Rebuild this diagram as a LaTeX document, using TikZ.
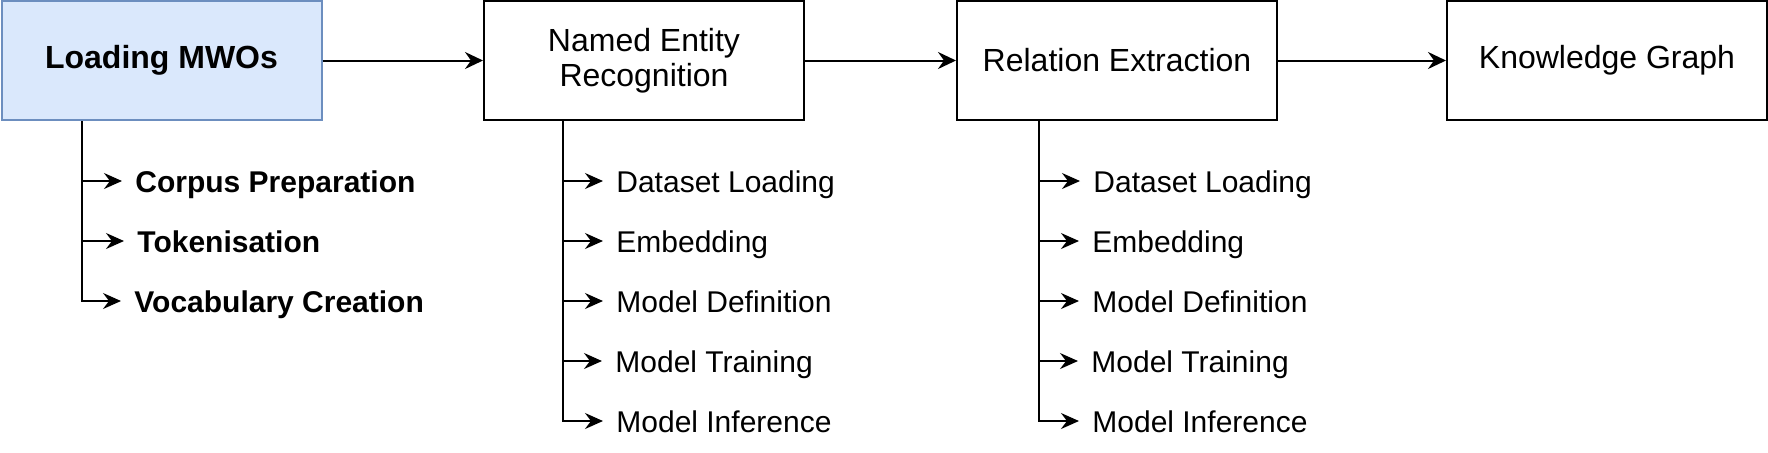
\documentclass[tikz,border=0pt]{standalone}
\usepackage{fontspec}
\setmainfont{Liberation Sans}
\usetikzlibrary{arrows.meta}
\definecolor{boxblue}{HTML}{DAE8FC}
\definecolor{boxblueline}{HTML}{6C8EBF}
\tikzset{
  stagebox/.style={draw=black, line width=1pt, minimum width=160pt, minimum height=59.5pt,
    inner sep=0pt, align=center, font=\fontsize{16}{17.5}\selectfont},
  firstbox/.style={stagebox, fill=boxblue, draw=boxblueline, font=\fontsize{16}{17.5}\selectfont\bfseries},
  mainarrow/.style={line width=1pt, -{Stealth[length=9pt, width=8.5pt, inset=3pt]}},
  subarrow/.style={line width=0.8pt, -{Stealth[length=9pt, width=8pt, inset=3pt]}},
  sublabel/.style={anchor=west, inner xsep=6.5pt, inner ysep=0pt, text height=11pt, text depth=0pt,
    font=\fontsize{15}{17}\selectfont},
  boldlabel/.style={sublabel, font=\fontsize{15}{17}\selectfont\bfseries}
}
\begin{document}
\begin{tikzpicture}[x=0.5pt, y=-0.5pt]
\useasboundingbox (0,0) rectangle (1768,452);
% main stages
\node[firstbox] (b1) at (161.5,60.5) {Loading MWOs};
\node[stagebox] (b2) at (644,60.5) {Named Entity\\Recognition};
\node[stagebox] (b3) at (1117,60.5) {Relation Extraction};
\node[stagebox] (b4) at (1607,60.5) {Knowledge Graph};
\draw[mainarrow] (b1) -- (b2);
\draw[mainarrow] (b2) -- (b3);
\draw[mainarrow] (b3) -- (b4);
% branch columns
\coordinate (v1) at (82,0);
\coordinate (v2) at (563,0);
\coordinate (v3) at (1039,0);
% sub-labels of stage 1
\node[boldlabel] (c1) at (122,181) {Corpus Preparation};
\node[boldlabel] (c2) at (124,241) {Tokenisation};
\node[boldlabel] (c3) at (121,301) {Vocabulary Creation};
% sub-labels of stage 2
\node[sublabel] (n1) at (603,181) {Dataset Loading};
\node[sublabel] (n2) at (603,241) {Embedding};
\node[sublabel] (n3) at (603,301) {Model Definition};
\node[sublabel] (n4) at (602,361) {Model Training};
\node[sublabel] (n5) at (603,421) {Model Inference};
% sub-labels of stage 3
\node[sublabel] (r1) at (1080,181) {Dataset Loading};
\node[sublabel] (r2) at (1079,241) {Embedding};
\node[sublabel] (r3) at (1079,301) {Model Definition};
\node[sublabel] (r4) at (1078,361) {Model Training};
\node[sublabel] (r5) at (1079,421) {Model Inference};
% connectors
\foreach \c in {c1,c2,c3} \draw[subarrow] (b1.south -| v1) |- (\c.west);
\foreach \c in {n1,n2,n3,n4,n5} \draw[subarrow] (b2.south -| v2) |- (\c.west);
\foreach \c in {r1,r2,r3,r4,r5} \draw[subarrow] (b3.south -| v3) |- (\c.west);
\end{tikzpicture}
\end{document}
